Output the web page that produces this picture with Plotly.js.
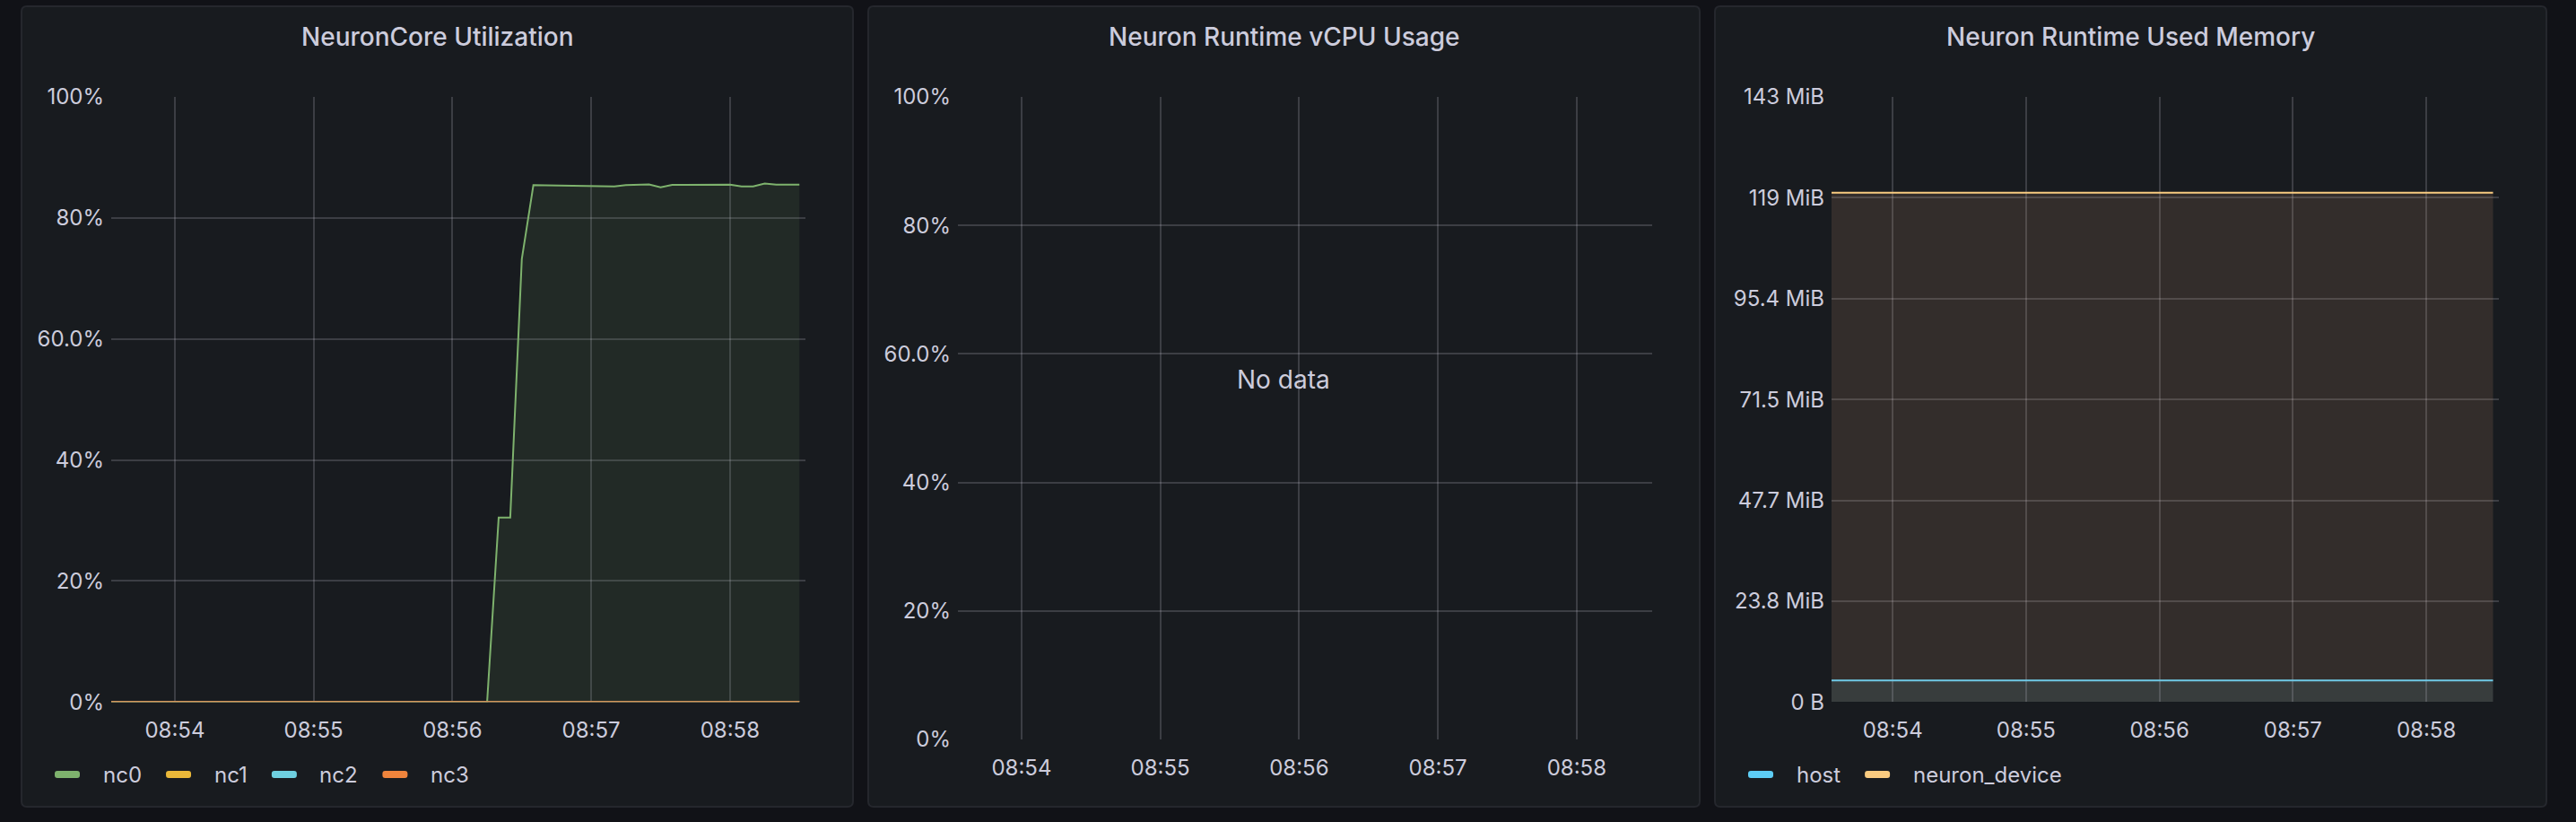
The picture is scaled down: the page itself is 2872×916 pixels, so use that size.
<!DOCTYPE html>
<html><head><meta charset="utf-8">
<script src="https://cdn.plot.ly/plotly-3.0.1.min.js"></script>
<style>html,body{margin:0;padding:0;background:#111217;overflow:hidden}#chart{width:2872px;height:916px}</style>
</head><body><div id="chart"></div><script>
// ---------- DATA ----------
const times = ["08:53:30","08:53:35","08:53:40","08:53:45","08:53:50","08:53:55",
"08:54:00","08:54:05","08:54:10","08:54:15","08:54:20","08:54:25","08:54:30","08:54:35","08:54:40","08:54:45","08:54:50","08:54:55",
"08:55:00","08:55:05","08:55:10","08:55:15","08:55:20","08:55:25","08:55:30","08:55:35","08:55:40","08:55:45","08:55:50","08:55:55",
"08:56:00","08:56:05","08:56:10","08:56:15","08:56:20","08:56:25","08:56:30","08:56:35","08:56:40","08:56:45","08:56:50","08:56:55",
"08:57:00","08:57:05","08:57:10","08:57:15","08:57:20","08:57:25","08:57:30","08:57:35","08:57:40","08:57:45","08:57:50","08:57:55",
"08:58:00","08:58:05","08:58:10","08:58:15","08:58:20","08:58:25","08:58:30"];

const nc0 = [0,0,0,0,0,0, 0,0,0,0,0,0,0,0,0,0,0,0, 0,0,0,0,0,0,0,0,0,0,0,0,
  0,0,0,0,30.5,30.5,73.2,85.42,85.4,85.35,85.3,85.28,
  85.25,85.22,85.2,85.42,85.5,85.54,85.05,85.45,85.45,85.45,85.45,85.48,
  85.5,85.2,85.2,85.7,85.5,85.5,85.5];
const nc1 = [0,0,0,0,0,0, 0,0,0,0,0,0,0,0,0,0,0,0, 0,0,0,0,0,0,0,0,0,0,0,0,
  0,0,0,0,0,0,0,0,0,0,0,0, 0,0,0,0,0,0,0,0,0,0,0,0, 0,0,0,0,0,0,0];
const nc2 = [0,0,0,0,0,0, 0,0,0,0,0,0,0,0,0,0,0,0, 0,0,0,0,0,0,0,0,0,0,0,0,
  0,0,0,0,0,0,0,0,0,0,0,0, 0,0,0,0,0,0,0,0,0,0,0,0, 0,0,0,0,0,0,0];
const nc3 = [0,0,0,0,0,0, 0,0,0,0,0,0,0,0,0,0,0,0, 0,0,0,0,0,0,0,0,0,0,0,0,
  0,0,0,0,0,0,0,0,0,0,0,0, 0,0,0,0,0,0,0,0,0,0,0,0, 0,0,0,0,0,0,0];
const coreNames = ["nc0","nc1","nc2","nc3"];
const coreColors = ["#7EB26D","#EAB839","#6ED0E0","#EF843C"];

// memory in MiB
const hostMem = [5.12,5.12,5.12,5.12,5.12,5.12, 5.12,5.12,5.12,5.12,5.12,5.12,5.12,5.12,5.12,5.12,5.12,5.12,
  5.12,5.12,5.12,5.12,5.12,5.12,5.12,5.12,5.12,5.12,5.12,5.12,
  5.12,5.12,5.12,5.12,5.12,5.12,5.12,5.12,5.12,5.12,5.12,5.12,
  5.12,5.12,5.12,5.12,5.12,5.12,5.12,5.12,5.12,5.12,5.12,5.12,
  5.12,5.12,5.12,5.12,5.12,5.12,5.12];
const neuronDeviceMem = [120.4,120.4,120.4,120.4,120.4,120.4, 120.4,120.4,120.4,120.4,120.4,120.4,120.4,120.4,120.4,120.4,120.4,120.4,
  120.4,120.4,120.4,120.4,120.4,120.4,120.4,120.4,120.4,120.4,120.4,120.4,
  120.4,120.4,120.4,120.4,120.4,120.4,120.45,120.45,120.45,120.45,120.4,120.4,
  120.4,120.4,120.4,120.4,120.4,120.4,120.35,120.35,120.4,120.4,120.4,120.4,
  120.4,120.4,120.4,120.35,120.35,120.4,120.4];
const memNames = ["host","neuron_device"];
const memColors = ["#5DCDF5","#F9CB80"];
const memFills = ["rgba(93,205,245,0.1)","rgba(249,185,131,0.12)"];

const pctTickVals = [0,20,40,60,80,100];
const pctTickText = ["0%","20%","40%","60.0%","80%","100%"];
const memTickVals = [0,23.84,47.68,71.53,95.37,119.21,143.05];
const memTickText = ["0 B","23.8 MiB","47.7 MiB","71.5 MiB","95.4 MiB","119 MiB","143 MiB"];
const panelTitles = ["NeuronCore Utilization","Neuron Runtime vCPU Usage","Neuron Runtime Used Memory"];
const timeRange = ["08:53:32.5","08:58:32.5"];
const firstTick = "08:54:00";

// ---------- LAYOUT ----------
const W = 2872, H = 916;
const DAY = "2024-01-01 ";
const X = t => DAY + t;
const px = x => x / W;
const py = y => 1 - y / H;
const TXT = "#ccccdc";
const GRID = "rgba(204,204,220,0.2)";
const FONT = "Inter, 'Open Sans', sans-serif";

const panels = [
  {l:24, r:951, t:7, b:899, plot:{l:124, r:897.7, t:108, b:782.3}},
  {l:968, r:1895, t:7, b:899, plot:{l:1068, r:1841.7, t:108, b:824}},
  {l:1912, r:2839, t:7, b:899, plot:{l:2042, r:2785.7, t:108, b:782.3}}
];

function rr(x0,y0,x1,y1,r){
  const X0=px(x0),X1=px(x1),Y0=py(y0),Y1=py(y1),rx=r/W,ry=r/H;
  return `M ${X0+rx},${Y0} L ${X1-rx},${Y0} Q ${X1},${Y0} ${X1},${Y0-ry} L ${X1},${Y1+ry} Q ${X1},${Y1} ${X1-rx},${Y1} L ${X0+rx},${Y1} Q ${X0},${Y1} ${X0},${Y1+ry} L ${X0},${Y0-ry} Q ${X0},${Y0} ${X0+rx},${Y0} Z`;
}

function xAxis(p, anchor){
  return {domain:[px(p.plot.l), px(p.plot.r)], anchor, type:"date",
    range:[X(timeRange[0]), X(timeRange[1])], tick0:X(firstTick), dtick:60000,
    tickformat:"%H:%M", showgrid:true, gridcolor:GRID, gridwidth:2,
    zeroline:false, showline:false, ticks:"", ticklabelstandoff:15,
    tickfont:{family:FONT, size:24, color:TXT}, fixedrange:true};
}
function yAxis(p, anchor, vals, text, maxv){
  return {domain:[py(p.plot.b), py(p.plot.t)], anchor, range:[0,maxv],
    tickmode:"array", tickvals:vals, ticktext:text, showgrid:true, gridcolor:GRID, gridwidth:2,
    zeroline:false, showline:false, ticks:"", ticklabelstandoff:7,
    tickfont:{family:FONT, size:24, color:TXT}, fixedrange:true};
}

const data = [];
const coreSeries = [nc0,nc1,nc2,nc3];
function rgba(hex,a){const n=parseInt(hex.slice(1),16);return `rgba(${n>>16&255},${n>>8&255},${n&255},${a})`;}
coreSeries.forEach((s,i)=>data.push({type:"scatter",mode:"lines",x:times.map(X),y:s,name:coreNames[i],
  xaxis:"x",yaxis:"y",line:{color:coreColors[i],width:2},fill:"tozeroy",fillcolor:rgba(coreColors[i],0.1),
  showlegend:false,hoverinfo:"skip"}));
data.push({type:"scatter",mode:"lines",x:[],y:[],xaxis:"x2",yaxis:"y2",showlegend:false,hoverinfo:"skip"});
[hostMem, neuronDeviceMem].forEach((s,i)=>data.push({type:"scatter",mode:"lines",x:times.map(X),y:s,name:memNames[i],
  xaxis:"x3",yaxis:"y3",line:{color:memColors[i],width:2},fill:"tozeroy",fillcolor:memFills[i],
  showlegend:false,hoverinfo:"skip"}));

const shapes = [];
const annotations = [];
panels.forEach((p,i)=>{
  shapes.push({type:"path",xref:"paper",yref:"paper",path:rr(p.l,p.t,p.r,p.b,6),
    fillcolor:"#181b1f",line:{color:"#25272d",width:2},layer:"below"});
  annotations.push({xref:"paper",yref:"paper",x:px((p.l+p.r)/2),y:py(41.5),xanchor:"center",yanchor:"middle",
    text:panelTitles[i],showarrow:false,font:{family:FONT,size:28,color:TXT,weight:500}});
});
annotations.push({xref:"paper",yref:"paper",x:px(1431),y:py(423),xanchor:"center",yanchor:"middle",
  text:"No data",showarrow:false,font:{family:FONT,size:28,color:TXT}});

// legends
const cv = document.createElement("canvas").getContext("2d");
cv.font = "24px Inter";
function legend(p, names, colors){
  let cur = p.l + 37;
  const yc = 863;
  names.forEach((n,i)=>{
    shapes.push({type:"path",xref:"paper",yref:"paper",path:rr(cur,yc-4,cur+28,yc+4,3),
      fillcolor:colors[i],line:{width:0},layer:"above"});
    const tx = cur + 52.5;
    annotations.push({xref:"paper",yref:"paper",x:px(tx),y:py(yc),xanchor:"left",yanchor:"middle",
      text:n,showarrow:false,font:{family:FONT,size:24,color:TXT},borderpad:0});
    cur = tx + cv.measureText(n).width + 28.5;
  });
}
legend(panels[0], coreNames, coreColors);
legend(panels[2], memNames, memColors);

const layout = {
  width:W, height:H, margin:{l:0,r:0,t:0,b:0,pad:0},
  paper_bgcolor:"#111217", plot_bgcolor:"rgba(0,0,0,0)",
  font:{family:FONT,color:TXT},
  xaxis:xAxis(panels[0],"y"), yaxis:yAxis(panels[0],"x",pctTickVals,pctTickText,100),
  xaxis2:xAxis(panels[1],"y2"), yaxis2:yAxis(panels[1],"x2",pctTickVals,pctTickText,100),
  xaxis3:xAxis(panels[2],"y3"), yaxis3:yAxis(panels[2],"x3",memTickVals,memTickText,143.05),
  shapes, annotations, showlegend:false
};
Plotly.newPlot("chart", data, layout, {staticPlot:true, displayModeBar:false});
</script></body></html>
